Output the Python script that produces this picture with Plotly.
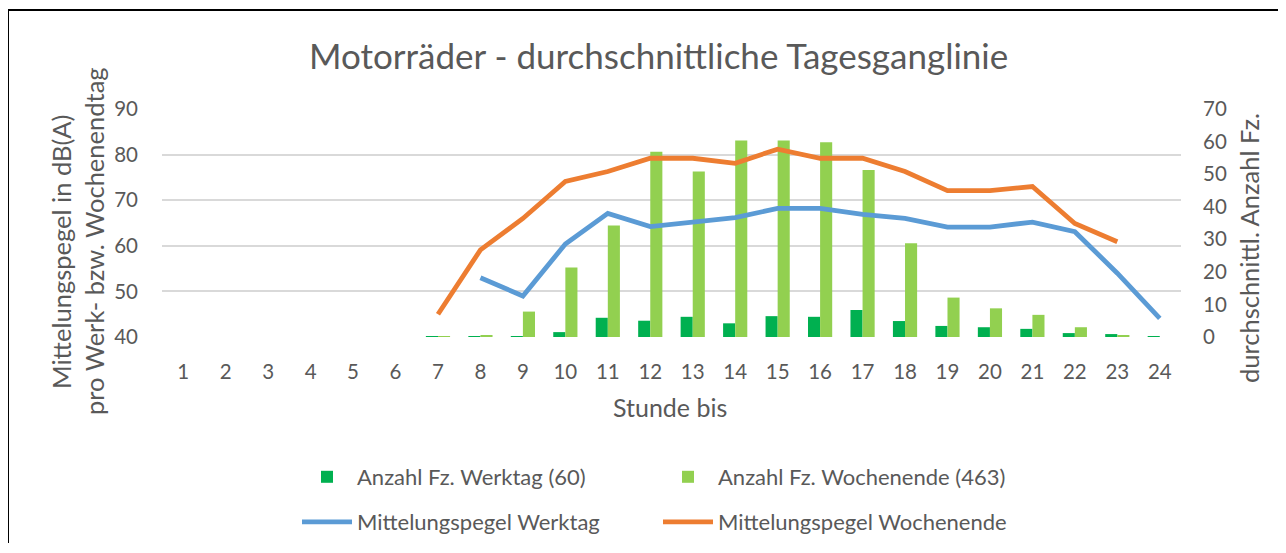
import plotly.graph_objects as go

hours = list(range(1, 25))
anzahl_werktag = [0, 0, 0, 0, 0, 0, 0.05, 0.2, 0.2, 1.5, 5.9, 5.0, 6.2, 4.2, 6.4, 6.2,
                  8.3, 4.9, 3.4, 3.0, 2.5, 1.2, 0.9, 0.05]
anzahl_wochenende = [0, 0, 0, 0, 0, 0, 0.1, 0.6, 7.8, 21.3, 34.2, 56.9, 50.8, 60.3, 60.3, 59.8,
                     51.3, 28.8, 12.1, 8.8, 6.8, 3.0, 0.6, 0]
pegel_werktag = [None, None, None, None, None, None, None, 53.0, 49.0, 60.4, 67.1, 64.2,
                 65.3, 66.2, 68.2, 68.2, 66.9, 66.0, 64.1, 64.1, 65.2, 63.1, 54.0, 44.1]
pegel_wochenende = [None, None, None, None, None, None, 45.0, 59.1, 66.0, 74.1, 76.3, 79.2,
                    79.2, 78.1, 81.2, 79.2, 79.2, 76.3, 72.1, 72.1, 73.0, 64.9, 60.9, None]

title_text = "Motorräder - durchschnittliche Tagesganglinie"
left_title_1 = "Mittelungspegel in dB(A)"
left_title_2 = "pro Werk- bzw. Wochenendtag"
right_title = "durchschnittl. Anzahl Fz."
x_title = "Stunde bis"

FONT = "Lato"
GREY = "#595959"

# page offset (body margin) and plot area in page pixels
OFF = 8
W, H = 1270, 535
L, R, T, B = 162, 1181, 109, 337
PW, PH = R - L, B - T


def px(x):
    return (x - L) / PW


def py(y):
    return (B - y) / PH


def cx(x):
    return (x - OFF) / W


def cy(y):
    return 1 - (y - OFF) / H


fig = go.Figure()
fig.add_trace(go.Bar(x=hours, y=anzahl_werktag, name="Anzahl Fz. Werktag (60)",
                     marker=dict(color="#00B050", line=dict(width=0)), yaxis="y", legend="legend"))
fig.add_trace(go.Bar(x=hours, y=anzahl_wochenende, name="Anzahl Fz. Wochenende (463)",
                     marker=dict(color="#92D050", line=dict(width=0)), yaxis="y", legend="legend"))
fig.add_trace(go.Scatter(x=hours, y=pegel_werktag, name="Mittelungspegel Werktag", mode="lines",
                         line=dict(color="#5B9BD5", width=4.8), yaxis="y2", legend="legend2"))
fig.add_trace(go.Scatter(x=hours, y=pegel_wochenende, name="Mittelungspegel Wochenende", mode="lines",
                         line=dict(color="#ED7D31", width=4.8), yaxis="y2", legend="legend2"))

annos = [
    dict(text=title_text, x=px(658), y=py(55), font=dict(size=35, color=GREY)),
    dict(text=left_title_1, x=px(61), y=py(252), textangle=-90, font=dict(size=25.5, color=GREY)),
    dict(text=left_title_2, x=px(94), y=py(241), textangle=-90, font=dict(size=25.5, color=GREY)),
    dict(text=right_title, x=px(1249), y=py(248), textangle=-90, font=dict(size=25.5, color=GREY)),
    dict(text=x_title, x=px(670), y=py(407), font=dict(size=25, color=GREY)),
]
for a in annos:
    a.update(xref="paper", yref="paper", showarrow=False, xanchor="center", yanchor="middle")

legend_common = dict(orientation="h", xanchor="left", yanchor="middle", entrywidth=296,
                     xref="container", yref="container",
                     font=dict(family=FONT, size=22, color=GREY), bgcolor="rgba(0,0,0,0)",
                     itemwidth=50)

border = [
    dict(type="line", xref="paper", yref="paper", x0=px(8), x1=px(1310), y0=py(10), y1=py(10),
         line=dict(color="black", width=2), layer="below"),
    dict(type="line", xref="paper", yref="paper", x0=px(8), x1=px(8), y0=py(10), y1=py(600),
         line=dict(color="black", width=2), layer="below"),
]

fig.update_layout(
    width=W, height=H,
    margin=dict(l=L - OFF, r=W - (R - OFF), t=T - OFF, b=H - (B - OFF)),
    paper_bgcolor="white", plot_bgcolor="white",
    font=dict(family=FONT, color=GREY),
    barmode="group", bargap=0.43, bargroupgap=0,
    annotations=annos,
    legend=dict(x=cx(297), y=cy(477), **legend_common),
    legend2=dict(x=cx(297), y=cy(522), **legend_common),
    xaxis=dict(range=[0.5, 24.5], tickmode="array", tickvals=hours, ticktext=[str(h) for h in hours],
               showgrid=False, zeroline=False, showline=False, ticks="",
               tickfont=dict(size=20.5, color=GREY), ticklabelstandoff=20),
    yaxis=dict(side="right", range=[0, 70], dtick=10, showgrid=False, zeroline=False,
               showline=False, tickfont=dict(size=20.5, color=GREY), ticklabelstandoff=21),
    yaxis2=dict(side="left", overlaying="y", range=[40, 90], dtick=10, showgrid=True,
                gridcolor="#D9D9D9", gridwidth=1.5, zeroline=False, showline=False,
                tickfont=dict(size=20.5, color=GREY), ticklabelstandoff=23),
    shapes=border,
)

fig.write_html("out.html")
